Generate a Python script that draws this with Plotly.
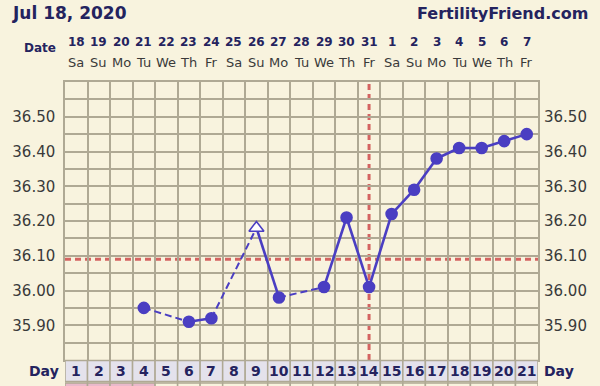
import plotly.graph_objects as go

# ---------------- data ----------------
chart_date = "Jul 18, 2020"
site_name = "FertilityFriend.com"
cycle_days = list(range(1, 22))
date_labels = ["18", "19", "20", "21", "22", "23", "24", "25", "26", "27", "28",
               "29", "30", "31", "1", "2", "3", "4", "5", "6", "7"]
weekday_labels = ["Sa", "Su", "Mo", "Tu", "We", "Th", "Fr", "Sa", "Su", "Mo", "Tu",
                  "We", "Th", "Fr", "Sa", "Su", "Mo", "Tu", "We", "Th", "Fr"]
temp_days = [4, 6, 7, 9, 10, 12, 13, 14, 15, 16, 17, 18, 19, 20, 21]
temps = [35.95, 35.91, 35.92, 36.18, 35.98, 36.01, 36.21, 36.01, 36.22, 36.29,
         36.38, 36.41, 36.41, 36.43, 36.45]
open_marker_days = [9]
coverline_temp = 36.09
ovulation_day = 14
pink_days = [1, 2, 3, 4]
y_tick_labels = ["35.90", "36.00", "36.10", "36.20", "36.30", "36.40", "36.50"]
y_min, y_max = 35.80, 36.60

# ---------------- styles ----------------
BG = "#f8f3de"
GRID = "#afa994"
PURPLE = "#4a3ec2"
RED = "#d46461"
NAVY = "#24235e"
TXT = "#3a3a3a"
FONT = "DejaVu Sans"
PLOT_H = 278  # plot area height in px (for paper offsets)

# segments: consecutive days solid, gaps dashed
solid_x, solid_y, dash_x, dash_y = [], [], [], []
for i in range(len(temp_days) - 1):
    a, b = temp_days[i], temp_days[i + 1]
    ta, tb = temps[i], temps[i + 1]
    if b - a == 1:
        solid_x += [a, b, None]
        solid_y += [ta, tb, None]
    else:
        dash_x += [a, b, None]
        dash_y += [ta, tb, None]

fig = go.Figure()
fig.add_trace(go.Scatter(x=dash_x, y=dash_y, mode="lines",
                         line=dict(color=PURPLE, width=2, dash="7px,4px"),
                         hoverinfo="skip", showlegend=False))
fig.add_trace(go.Scatter(x=solid_x, y=solid_y, mode="lines",
                         line=dict(color=PURPLE, width=2.6),
                         hoverinfo="skip", showlegend=False))

symbols = ["triangle-up" if d in open_marker_days else "circle" for d in temp_days]
fills = ["white" if d in open_marker_days else PURPLE for d in temp_days]
sizes = [13 if d in open_marker_days else 11 for d in temp_days]
fig.add_trace(go.Scatter(x=temp_days, y=temps, mode="markers",
                         marker=dict(symbol=symbols, color=fills, size=sizes, opacity=1,
                                     line=dict(color=PURPLE, width=1.6)),
                         showlegend=False))
# invisible trace on the right axis so it renders
fig.add_trace(go.Scatter(x=temp_days, y=temps, yaxis="y2", mode="lines",
                         line=dict(width=0, color="rgba(0,0,0,0)"),
                         hoverinfo="skip", showlegend=False))

shapes = []
# coverline and ovulation line
shapes.append(dict(type="line", xref="paper", x0=0, x1=1, yref="y",
                   y0=coverline_temp, y1=coverline_temp, layer="between",
                   line=dict(color=RED, width=3, dash="6px,4px")))
shapes.append(dict(type="line", xref="x", x0=ovulation_day, x1=ovulation_day,
                   yref="paper", y0=0, y1=1, layer="between",
                   line=dict(color=RED, width=3, dash="6px,4px")))

# day row cells
row1_top, row1_bot = -0.5 / PLOT_H, -21.5 / PLOT_H
row2_top, row2_bot = -23 / PLOT_H, -45 / PLOT_H
for d in cycle_days:
    shapes.append(dict(type="rect", xref="x", yref="paper", x0=d - 0.5, x1=d + 0.5,
                       y0=row1_bot, y1=row1_top, fillcolor="#e4e2ec",
                       line=dict(color=GRID, width=1.5), layer="above"))
    shapes.append(dict(type="rect", xref="x", yref="paper", x0=d - 0.5, x1=d + 0.5,
                       y0=row2_bot, y1=row2_top,
                       fillcolor="#eab9cb" if d in pink_days else BG,
                       line=dict(color=GRID, width=1.5), layer="above"))

annotations = []
for d, dl, wl in zip(cycle_days, date_labels, weekday_labels):
    annotations.append(dict(x=d, xref="x", y=1 + 40 / PLOT_H, yref="paper",
                            text="<b>" + dl + "</b>", showarrow=False, yanchor="middle",
                            font=dict(family=FONT, size=12, color=NAVY)))
    annotations.append(dict(x=d, xref="x", y=1 + 20 / PLOT_H, yref="paper",
                            text=wl, showarrow=False, yanchor="middle",
                            font=dict(family=FONT, size=13, color=TXT)))
    annotations.append(dict(x=d, xref="x", y=(row1_top + row1_bot) / 2, yref="paper",
                            text="<b>" + str(d) + "</b>", showarrow=False, yanchor="middle",
                            font=dict(family=FONT, size=14, color=NAVY)))

annotations.append(dict(x=-7 / 473, xref="paper", y=1 + 34 / PLOT_H, yref="paper",
                        text="<b>Date</b>", showarrow=False, xanchor="right", yanchor="middle",
                        font=dict(family=FONT, size=12, color=NAVY)))
annotations.append(dict(x=-4 / 473, xref="paper", y=(row1_top + row1_bot) / 2, yref="paper",
                        text="<b>Day</b>", showarrow=False, xanchor="right", yanchor="middle",
                        font=dict(family=FONT, size=14, color=NAVY)))
annotations.append(dict(x=1 + 4 / 473, xref="paper", y=(row1_top + row1_bot) / 2, yref="paper",
                        text="<b>Day</b>", showarrow=False, xanchor="left", yanchor="middle",
                        font=dict(family=FONT, size=14, color=NAVY)))
annotations.append(dict(x=-55 / 473, xref="paper", y=1 + 69 / PLOT_H, yref="paper",
                        text="<b>" + chart_date + "</b>", showarrow=False, xanchor="left",
                        yanchor="middle", font=dict(family=FONT, size=17, color=NAVY)))
annotations.append(dict(x=1 + 52 / 473, xref="paper", y=1 + 69 / PLOT_H, yref="paper",
                        text="<b>" + site_name + "</b>", showarrow=False, xanchor="right",
                        yanchor="middle", font=dict(family=FONT, size=16, color=NAVY)))

y_tick_vals = [float(t) for t in y_tick_labels]
axis_font = dict(family=FONT, size=15, color=TXT)

fig.update_layout(
    width=600, height=386,
    margin=dict(l=65, r=62, t=82, b=26, pad=0),
    paper_bgcolor=BG, plot_bgcolor=BG,
    showlegend=False,
    xaxis=dict(range=[0.5, 21.5], tickmode="linear", tick0=0.5, dtick=1,
               showticklabels=False, ticks="", showgrid=True, gridcolor=GRID,
               gridwidth=1.5, zeroline=False, showline=True, mirror=True,
               linecolor=GRID, linewidth=1.5, fixedrange=True),
    yaxis=dict(range=[y_min, y_max], tickvals=y_tick_vals, ticktext=y_tick_labels,
               ticks="", ticklabelstandoff=5, tickfont=axis_font,
               showgrid=True, gridcolor=GRID, gridwidth=1.5, zeroline=False,
               minor=dict(tick0=y_min, dtick=0.05, showgrid=True, gridcolor=GRID,
                          gridwidth=1.5, ticks=""),
               showline=True, mirror=True, linecolor=GRID, linewidth=1.5,
               fixedrange=True),
    yaxis2=dict(range=[y_min, y_max], overlaying="y", side="right",
                tickvals=y_tick_vals, ticktext=y_tick_labels, ticks="",
                ticklabelstandoff=5, tickfont=axis_font, showgrid=False,
                zeroline=False, showline=False, fixedrange=True),
    shapes=shapes,
    annotations=annotations,
)

fig.write_html("out.html", config={"displayModeBar": False},
               post_script="document.body.style.margin='0';document.body.style.background='" + BG + "';")
